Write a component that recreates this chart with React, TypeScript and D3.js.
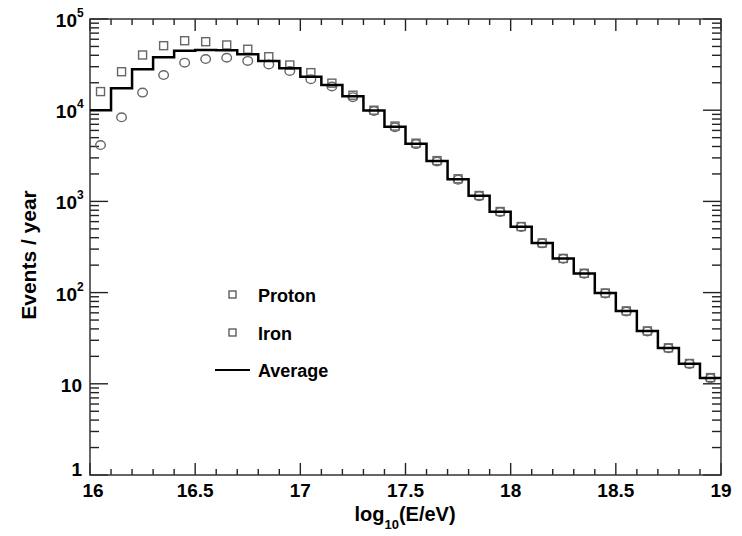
import * as d3 from 'd3';

// log10(E/eV) bin centres, 0.1 wide
const binCentres = [
  16.05, 16.15, 16.25, 16.35, 16.45, 16.55, 16.65, 16.75, 16.85, 16.95,
  17.05, 17.15, 17.25, 17.35, 17.45, 17.55, 17.65, 17.75, 17.85, 17.95,
  18.05, 18.15, 18.25, 18.35, 18.45, 18.55, 18.65, 18.75, 18.85, 18.95,
];

// events / year
const average = [
  1.0e4, 1.74e4, 2.81e4, 3.8e4, 4.5e4, 4.57e4, 4.55e4, 4.1e4, 3.47e4, 2.88e4,
  2.33e4, 1.89e4, 1.42e4, 9.9e3, 6.6e3, 4.3e3, 2.77e3, 1.75e3, 1.15e3, 771,
  528, 349, 236, 162, 99, 63, 38, 24.7, 16.6, 11.6,
];
const proton = [
  1.6e4, 2.64e4, 4.03e4, 5.1e4, 5.78e4, 5.64e4, 5.19e4, 4.66e4, 3.86e4, 3.13e4,
  2.58e4, 1.98e4, 1.46e4, 1.0e4, 6.7e3, 4.35e3, 2.8e3, 1.77e3, 1.16e3, 775,
  530, 350, 237, 163, 99, 63, 38, 24.8, 16.7, 11.7,
];
const iron = [
  4.15e3, 8.36e3, 1.56e4, 2.43e4, 3.32e4, 3.64e4, 3.76e4, 3.47e4, 3.18e4, 2.69e4,
  2.19e4, 1.82e4, 1.39e4, 9.8e3, 6.5e3, 4.25e3, 2.74e3, 1.73e3, 1.14e3, 765,
  525, 347, 235, 161, 98, 62, 37.5, 24.5, 16.5, 11.5,
];

const xTicks = [16, 16.5, 17, 17.5, 18, 18.5, 19];
const xTickLabels = ['16', '16.5', '17', '17.5', '18', '18.5', '19'];
const yDecades = [1, 10, 100, 1000, 10000, 100000];
const yExponents = ['', '', '2', '3', '4', '5'];
const yBases = ['1', '10', '10', '10', '10', '10'];

const legendItems = ['Proton', 'Iron', 'Average'];

const width = 742,
  height = 536,
  marginLeft = 90,
  marginRight = 21,
  marginTop = 19,
  marginBottom = 61;

const font = '"Liberation Sans", Arial, Helvetica, sans-serif';
const markerColor = '#666';

export default function App() {
  const x = d3
    .scaleLinear()
    .domain([16, 19])
    .range([marginLeft, width - marginRight]);
  const y = d3
    .scaleLog()
    .domain([1, 1e5])
    .range([height - marginBottom, marginTop]);

  const left = x(16),
    right = x(19),
    top = y(1e5),
    bottom = y(1);

  const half = 0.05;
  const steps: [number, number][] = binCentres.map((c, i) => [c - half, average[i]]);
  steps.push([binCentres[binCentres.length - 1] + half, average[average.length - 1]]);
  const histLine = d3
    .line<[number, number]>()
    .x((d) => x(d[0]))
    .y((d) => y(d[1]))
    .curve(d3.curveStepAfter);

  const minorX = d3.range(16, 19.0001, 0.1).filter((v) => Math.abs(v * 2 - Math.round(v * 2)) > 1e-6);
  const minorY: number[] = [];
  yDecades.slice(0, -1).forEach((d) => {
    for (let k = 2; k <= 9; k++) minorY.push(d * k);
  });

  return (
    <svg width={width} height={height} style={{ position: 'absolute', left: 0, top: 0, background: '#fff' }}>
      <rect width={width} height={height} fill="#fff" />
      {/* ticks */}
      <g stroke="#222" strokeWidth={1.4}>
        {xTicks.map((t) => (
          <g key={'xt' + t}>
            <line x1={x(t)} x2={x(t)} y1={bottom} y2={bottom - 12} />
            <line x1={x(t)} x2={x(t)} y1={top} y2={top + 12} />
          </g>
        ))}
        {minorX.map((t) => (
          <g key={'xm' + t}>
            <line x1={x(t)} x2={x(t)} y1={bottom} y2={bottom - 6} />
            <line x1={x(t)} x2={x(t)} y1={top} y2={top + 6} />
          </g>
        ))}
        {yDecades.map((t) => (
          <g key={'yt' + t}>
            <line x1={left} x2={left + 18} y1={y(t)} y2={y(t)} />
            <line x1={right} x2={right - 18} y1={y(t)} y2={y(t)} />
          </g>
        ))}
        {minorY.map((t) => (
          <g key={'ym' + t}>
            <line x1={left} x2={left + 9} y1={y(t)} y2={y(t)} />
            <line x1={right} x2={right - 9} y1={y(t)} y2={y(t)} />
          </g>
        ))}
      </g>
      <rect
        x={left}
        y={top}
        width={right - left}
        height={bottom - top}
        fill="none"
        stroke="#333"
        strokeWidth={1.5}
      />

      {/* markers */}
      <g fill="none" stroke={markerColor} strokeWidth={1.4}>
        {binCentres.map((c, i) => (
          <rect key={'p' + i} x={x(c) - 4} y={y(proton[i]) - 4} width={8} height={8} />
        ))}
        {binCentres.map((c, i) => (
          <ellipse key={'f' + i} cx={x(c)} cy={y(iron[i])} rx={4.8} ry={4.3} />
        ))}
      </g>

      <path d={histLine(steps) ?? ''} fill="none" stroke="#000" strokeWidth={2.5} />

      {/* axis labels */}
      <g fontFamily={font} fontWeight="bold" fontSize={19} fill="#000">
        {xTicks.map((t, i) => (
          <text key={'xl' + t} x={i === 0 ? x(t) + 3 : x(t)} y={497} textAnchor="middle">
            {xTickLabels[i]}
          </text>
        ))}
        {yDecades.map((t, i) => (
          <text key={'yl' + t} x={i < 2 ? 82 : 77} y={i === 0 ? y(t) + 1 : y(t) + 8} textAnchor="end">
            {yBases[i]}
            {yExponents[i] && (
              <tspan fontSize={12} dy={-10} x={77} textAnchor="start">
                {yExponents[i]}
              </tspan>
            )}
          </text>
        ))}
      </g>

      <text
        transform={`translate(${36},${255}) rotate(-90)`}
        textAnchor="middle"
        fontFamily={font}
        fontWeight="bold"
        fontSize={21}
      >
        Events / year
      </text>
      <text x={405} y={521} textAnchor="middle" fontFamily={font} fontWeight="bold" fontSize={20}>
        log
        <tspan fontSize={13} dy={8}>
          10
        </tspan>
        <tspan dy={-8}>(E/eV)</tspan>
      </text>

      {/* legend */}
      <g fontFamily={font} fontWeight="bold" fontSize={18}>
        <rect x={229} y={291} width={7} height={7} fill="none" stroke="#444" strokeWidth={1.2} />
        <text x={258} y={302}>
          {legendItems[0]}
        </text>
        <rect x={229} y={329} width={7} height={7} fill="none" stroke="#444" strokeWidth={1.2} />
        <text x={258} y={340}>
          {legendItems[1]}
        </text>
        <line x1={215} x2={250} y1={370} y2={370} stroke="#000" strokeWidth={2.2} />
        <text x={258} y={377}>
          {legendItems[2]}
        </text>
      </g>
    </svg>
  );
}
